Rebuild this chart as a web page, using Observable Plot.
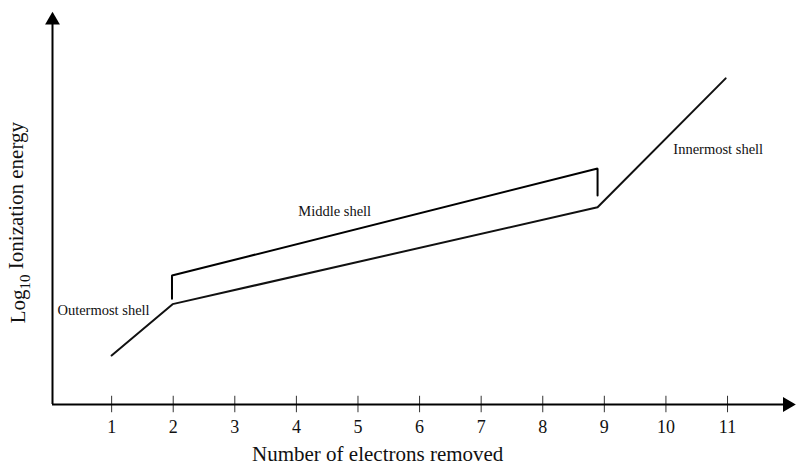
<!DOCTYPE html>
<html>
<head>
<meta charset="utf-8">
<script src="https://cdn.jsdelivr.net/npm/d3@7"></script>
<script src="https://cdn.jsdelivr.net/npm/@observablehq/plot@0.6"></script>
<style>
  html, body { margin: 0; padding: 0; background: #fff; }
  #chart svg { display: block; }
</style>
</head>
<body>
<div id="chart"></div>
<script>
// Data (x = number of electrons removed, y = relative log10 ionization energy)
const lineX = [1, 1.99, 8.89, 10.97];
const lineY = [1.25, 2.56, 5.03, 8.32];
const bracketX = [1.98, 1.98, 8.89, 8.89];
const bracketY = [2.70, 3.29, 6.02, 5.33];
const xTicks = [1, 2, 3, 4, 5, 6, 7, 8, 9, 10, 11];
const shellLabels = ["Outermost shell", "Middle shell", "Innermost shell"];
const shellLabelX = [0.12, 4.03, 10.12];
const shellLabelY = [2.40, 4.92, 6.50];
const xTitle = "Number of electrons removed";
const yTitle = "Log10 Ionization energy";

const xMin = 0.04, xMax = 12.12, yMin = 0, yMax = 10;
const xArrowEnd = 11.97, yArrowEnd = 9.8;
const xTitleX = 5.32, yTitleY = 4.64;

const lineData = lineX.map((x, i) => ({x, y: lineY[i]}));
const bracketData = bracketX.map((x, i) => ({x, y: bracketY[i]}));
const labelData = shellLabels.map((t, i) => ({t, x: shellLabelX[i], y: shellLabelY[i]}));

const font = "'Liberation Serif', 'Times New Roman', serif";

const chart = Plot.plot({
  width: 796,
  height: 468,
  marginLeft: 52,
  marginRight: 0,
  marginTop: 12,
  marginBottom: 64,
  style: {fontFamily: font, background: "#fff", color: "#111"},
  x: {domain: [xMin, xMax], axis: null},
  y: {domain: [yMin, yMax], axis: null},
  marks: [
    // tick marks crossing the x axis
    Plot.ruleX(xTicks, {x: d => d, y1: -0.21, y2: 0.21, stroke: "#333", strokeWidth: 1}),
    // axes
    Plot.ruleY([0], {x1: xMin, x2: xArrowEnd, stroke: "#000", strokeWidth: 2}),
    Plot.ruleX([xMin], {y1: 0, y2: yArrowEnd, stroke: "#000", strokeWidth: 2}),
    Plot.dot([{x: xArrowEnd, y: 0}], {x: "x", y: "y", symbol: "triangle", r: 5.5, fill: "#000", stroke: null, rotate: 90}),
    Plot.dot([{x: xMin, y: yArrowEnd}], {x: "x", y: "y", symbol: "triangle", r: 5.5, fill: "#000", stroke: null}),
    Plot.axisX({ticks: xTicks, tickSize: 0, tickPadding: 16, fontSize: 18, label: null, tickFormat: d => String(d)}),
    // data line and bracket
    Plot.line(lineData, {x: "x", y: "y", stroke: "#111", strokeWidth: 2}),
    Plot.line(bracketData, {x: "x", y: "y", stroke: "#000", strokeWidth: 2, strokeLinejoin: "miter"}),
    // annotations
    Plot.text(labelData, {x: "x", y: "y", text: "t", textAnchor: "start", fontSize: 14.5, fill: "#111"}),
    Plot.text([xTitle], {x: xTitleX, frameAnchor: "bottom", dy: 56, fontSize: 21, fill: "#111"}),
    Plot.text([yTitle], {x: xMin, y: yTitleY, dx: -34, rotate: -90, fontSize: 21, fill: "#111", className: "ytitle"})
  ]
});

document.getElementById("chart").appendChild(chart);

// render subscript "10" in the y title
d3.select(chart).selectAll("g.ytitle text").each(function() {
  const t = d3.select(this);
  t.text(null);
  t.append("tspan").text("Log");
  t.append("tspan").attr("font-size", 15).attr("dy", "0.3em").text("10");
  t.append("tspan").attr("dy", "-0.3em").text(" Ionization energy");
});
</script>
</body>
</html>
